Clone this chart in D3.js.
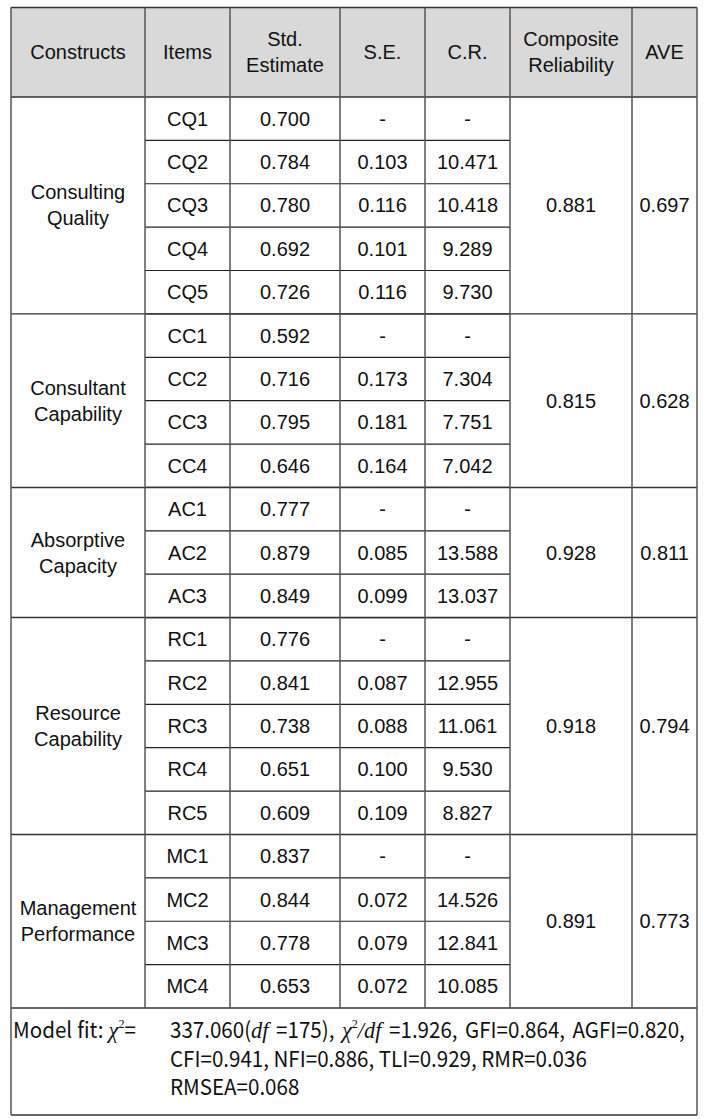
<!DOCTYPE html>
<html lang="en">
<head>
<meta charset="utf-8">
<script src="https://cdn.jsdelivr.net/npm/d3@7"></script>
<style>
    body { margin: 0; background: #fff; }
    svg { display: block; }
</style>
</head>
<body>
<div id="table"></div>

<script>
    // Table contents
    const columns = ["Constructs", "Items", "Std.\nEstimate", "S.E.", "C.R.", "Composite\nReliability", "AVE"];
    const constructs = ["Consulting\nQuality", "Consultant\nCapability", "Absorptive\nCapacity", "Resource\nCapability", "Management\nPerformance"];
    const items = [
        ["CQ1", "CQ2", "CQ3", "CQ4", "CQ5"],
        ["CC1", "CC2", "CC3", "CC4"],
        ["AC1", "AC2", "AC3"],
        ["RC1", "RC2", "RC3", "RC4", "RC5"],
        ["MC1", "MC2", "MC3", "MC4"]
    ];
    const stdEstimate = [
        "0.700", "0.784", "0.780", "0.692", "0.726",
        "0.592", "0.716", "0.795", "0.646",
        "0.777", "0.879", "0.849",
        "0.776", "0.841", "0.738", "0.651", "0.609",
        "0.837", "0.844", "0.778", "0.653"
    ];
    const stdError = [
        "-", "0.103", "0.116", "0.101", "0.116",
        "-", "0.173", "0.181", "0.164",
        "-", "0.085", "0.099",
        "-", "0.087", "0.088", "0.100", "0.109",
        "-", "0.072", "0.079", "0.072"
    ];
    const criticalRatio = [
        "-", "10.471", "10.418", "9.289", "9.730",
        "-", "7.304", "7.751", "7.042",
        "-", "13.588", "13.037",
        "-", "12.955", "11.061", "9.530", "8.827",
        "-", "14.526", "12.841", "10.085"
    ];
    const compositeReliability = ["0.881", "0.815", "0.928", "0.918", "0.891"];
    const aveValues = ["0.697", "0.628", "0.811", "0.794", "0.773"];

    // model fit note, split in runs: [text, style]
    const fitLabel = [["Model fit: "], ["χ", "i"], ["2", "sup"], ["="]];
    const fitLine1 = [
        ["337.060("], ["df", "i"], [" =175), "],
        ["χ", "i"], ["2", "sup"], ["/", "i"], ["df", "i"], [" =1.926, GFI=0.864, AGFI=0.820,"]
    ];
    const fitLine2 = "CFI=0.941, NFI=0.886, TLI=0.929, RMR=0.036";
    const fitLine3 = "RMSEA=0.068";

    // Layout
    const width = 717, height = 1119;
    const colEdges = [11, 145, 230, 340, 425, 510, 632, 697];
    const headerTop = 7.5, headerBottom = 97, bodyBottom = 1008, footerBottom = 1115;
    const lineGap = 26;
    const cellFont = "'Liberation Sans', Arial, Helvetica, sans-serif";
    const fitFont = "'Noto Sans CJK KR', 'Noto Sans', sans-serif";

    const svg = d3.select("#table").append("svg")
        .attr("width", width)
        .attr("height", height);

    // flat list of rows
    const rows = [];
    items.forEach((group, g) => group.forEach(it => rows.push({ item: it, group: g })));

    const y = d3.scaleBand()
        .domain(d3.range(rows.length))
        .range([headerBottom, bodyBottom]);

    const colMid = i => (colEdges[i] + colEdges[i + 1]) / 2;

    // group extents
    let start = 0;
    const groups = items.map((grp, g) => {
        const s = start;
        start += grp.length;
        return { g, y0: y(s), y1: y(s + grp.length - 1) + y.bandwidth() };
    });

    // header background
    svg.append("rect")
        .attr("x", colEdges[0]).attr("y", headerTop)
        .attr("width", colEdges[7] - colEdges[0]).attr("height", headerBottom - headerTop)
        .attr("fill", "#d9d9d9");

    function cellText(x, baseline, str) {
        return svg.append("text")
            .attr("font-family", cellFont)
            .attr("font-size", 20)
            .attr("fill", "#111")
            .attr("text-anchor", "middle")
            .attr("x", x).attr("y", baseline)
            .text(str);
    }

    // multi-line centred text
    function multiText(x, cy, str) {
        const lines = str.split("\n");
        lines.forEach((ln, i) => cellText(x, cy + 7 + (i - (lines.length - 1) / 2) * lineGap, ln));
    }

    columns.forEach((c, i) => multiText(colMid(i), (headerTop + headerBottom) / 2, c));

    const hline = (x1, x2, yy, color, w) => svg.append("line")
        .attr("x1", x1).attr("x2", x2).attr("y1", yy).attr("y2", yy)
        .attr("stroke", color).attr("stroke-width", w);
    const vline = (xx, y1, y2, color, w) => svg.append("line")
        .attr("x1", xx).attr("x2", xx).attr("y1", y1).attr("y2", y2)
        .attr("stroke", color).attr("stroke-width", w);

    // item row separators (only under Items .. C.R.)
    rows.forEach((r, i) => {
        if (i > 0) hline(colEdges[1], colEdges[5], y(i), "#222", 1.2);
    });
    groups.forEach(gr => hline(colEdges[0], colEdges[7], gr.y1, "#333", 1.4));
    hline(colEdges[0], colEdges[7], headerTop, "#333", 1.4);
    hline(colEdges[0], colEdges[7], headerBottom, "#333", 1.4);
    hline(colEdges[0], colEdges[7], footerBottom, "#333", 1.4);

    colEdges.forEach((cx, i) => {
        const y2 = (i === 0 || i === 7) ? footerBottom : bodyBottom;
        vline(cx, headerTop, y2, "#555", 1.5);
    });

    // body cells
    rows.forEach((r, i) => {
        const cy = y(i) + y.bandwidth() / 2;
        [r.item, stdEstimate[i], stdError[i], criticalRatio[i]].forEach((v, k) => {
            cellText(colMid(k + 1), cy + 7, v);
        });
    });

    groups.forEach(gr => {
        const cy = (gr.y0 + gr.y1) / 2;
        multiText(colMid(0), cy, constructs[gr.g]);
        multiText(colMid(5), cy, compositeReliability[gr.g]);
        multiText(colMid(6), cy, aveValues[gr.g]);
    });

    // model fit footer
    function fitText(parts) {
        const t = svg.append("text")
            .attr("font-family", fitFont)
            .attr("font-size", 22)
            .attr("fill", "#111")
            .style("white-space", "pre");
        parts.forEach((p, i) => {
            const ts = t.append("tspan").text(p[0]);
            if (p[1] === "i") ts.attr("font-family", "'Liberation Serif', serif").attr("font-style", "italic").attr("font-size", 24);
            if (p[1] === "sup") ts.attr("font-family", "'Liberation Serif', serif").attr("font-size", 13).attr("dy", -10);
            if (i > 0 && parts[i - 1][1] === "sup") ts.attr("dy", 10);
        });
        return t;
    }

    // stretch the gaps between words so a line spans [x0, x1]
    function place(t, x0, x1, baseline, sx) {
        const nSpaces = t.text().split(" ").length - 1;
        const w = t.node().getComputedTextLength();
        if (nSpaces > 0) t.attr("word-spacing", ((x1 - x0) / sx - w) / nSpaces);
        t.attr("transform", `translate(${x0},${baseline}) scale(${sx},1)`);
    }

    const t2 = fitText([[fitLine2]]);
    const sx = 417 / t2.node().getComputedTextLength();
    t2.attr("transform", `translate(170,1067) scale(${sx},1)`);
    fitText([[fitLine3]]).attr("transform", `translate(170,1095) scale(${sx},1)`);

    place(fitText(fitLabel), 13, 136, 1038, sx);
    place(fitText(fitLine1), 170, 685, 1038, sx);
</script>
</body>
</html>
